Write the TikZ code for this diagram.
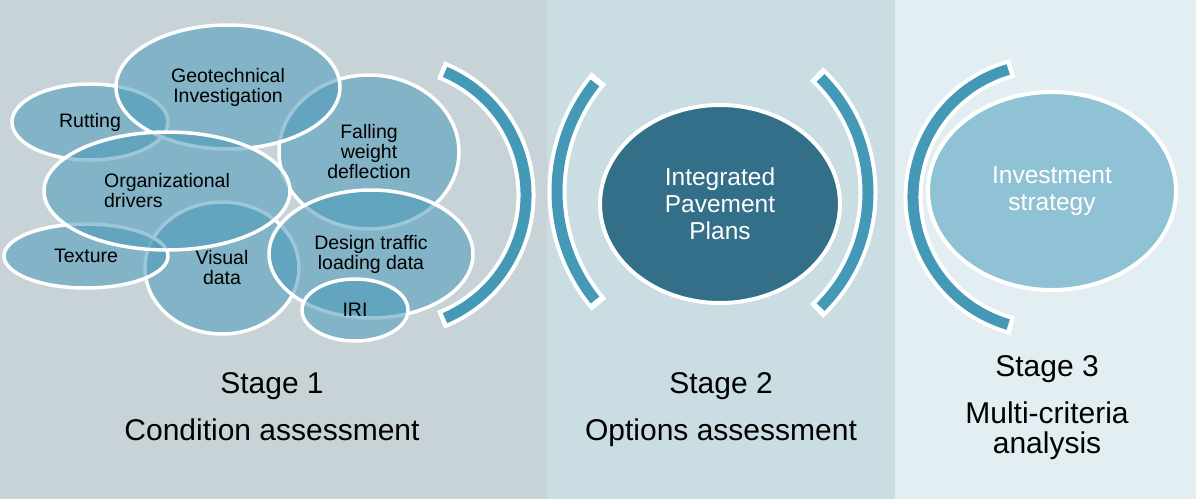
\documentclass[tikz,border=0pt]{standalone}
\usepackage{fontspec}
\setmainfont{Liberation Sans}
\usetikzlibrary{shapes}
\usetikzlibrary{positioning}
\definecolor{stage-one}{HTML}{C8D3D8}
\definecolor{stage-two}{HTML}{CADDE2}
\definecolor{stage-three}{HTML}{E2EEF1}
\definecolor{bubble-blue}{HTML}{4A9AB8}
\definecolor{arc-blue}{HTML}{4499B7}
\definecolor{plan-teal}{HTML}{336F89}
\colorlet{strategy-blue}{arc-blue!60!white}
\tikzset{
  bubble/.style={ellipse, draw=white, line width=3.5pt, fill=bubble-blue, fill opacity=0.55, text opacity=1, inner sep=0pt, align=center, font=\fontsize{19.5}{20}\selectfont},
  bigbubble/.style={ellipse, draw=white, line width=4pt, inner sep=0pt, align=center, text=white, font=\fontsize{24.5}{27}\selectfont},
  stagelabel/.style={anchor=base, inner sep=0pt, font=\fontsize{30}{30}\selectfont},
}
\newcommand{\tikzbracket}[5]{%
% white rim
\draw[white,line width=19pt] (#1,#2) ++(#3-2:#5) arc[start angle=#3-2, end angle=#4+2, radius=#5];
% blue band
\draw[arc-blue,line width=11pt] (#1,#2) ++(#3:#5) arc[start angle=#3, end angle=#4, radius=#5];
}

\begin{document}
\begin{tikzpicture}[x=1pt, y=-1pt]
% stage panels
\fill[stage-one] (0,0) rectangle (547,499);
\fill[stage-two] (547,0) rectangle (895,499);
\fill[stage-three] (895,0) rectangle (1196,499);
% brackets
\tikzbracket{392}{195}{-66.7}{66.7}{134}
\tikzbracket{731}{191.5}{141.4}{218.6}{174}
\tikzbracket{706}{192.5}{-45}{45}{162}
\tikzbracket{1046}{197}{106.5}{253.5}{133}
% condition data
\node[bubble, minimum width=180pt, minimum height=154pt] (fwd) at (369,152) {Falling\\weight\\deflection};
\node[bubble, minimum width=154pt, minimum height=132pt] (visual) at (222,268) {Visual\\data};
\node[bubble, minimum width=164pt, minimum height=64pt] (texture) at (86,256) {Texture};
\node[bubble, minimum width=156pt, minimum height=76pt] (rutting) at (90,122) {Rutting};
\node[bubble, minimum width=224pt, minimum height=124pt] (geotech) at (228,87) {Geotechnical\\Investigation};
\node[bubble, minimum width=246pt, minimum height=118pt, align=left] (drivers) at (167,191) {Organizational\\drivers};
\node[bubble, minimum width=204pt, minimum height=128pt] (traffic) at (371,254) {Design traffic\\loading data};
\node[bubble, minimum width=106pt, minimum height=62pt] (iri) at (355,310) {IRI};
% outcomes
\node[bigbubble, fill=plan-teal, minimum width=240pt, minimum height=198pt] (plans) at (720,204) {Integrated\\Pavement\\Plans};
\node[bigbubble, fill=strategy-blue, minimum width=248pt, minimum height=198pt] (strategy) at (1052,191) {Investment\\strategy};
% stage captions
\node[stagelabel] (stage1) at (272,393) {Stage 1};
\node[stagelabel] (cond) at (272,440) {Condition assessment};
\node[stagelabel] (stage2) at (721,393) {Stage 2};
\node[stagelabel] (options) at (721,440) {Options assessment};
\node[stagelabel] (stage3) at (1047,376) {Stage 3};
\node[stagelabel, align=center] (mca) at (1047,453) {Multi-criteria\\analysis};
\end{tikzpicture}
\end{document}
